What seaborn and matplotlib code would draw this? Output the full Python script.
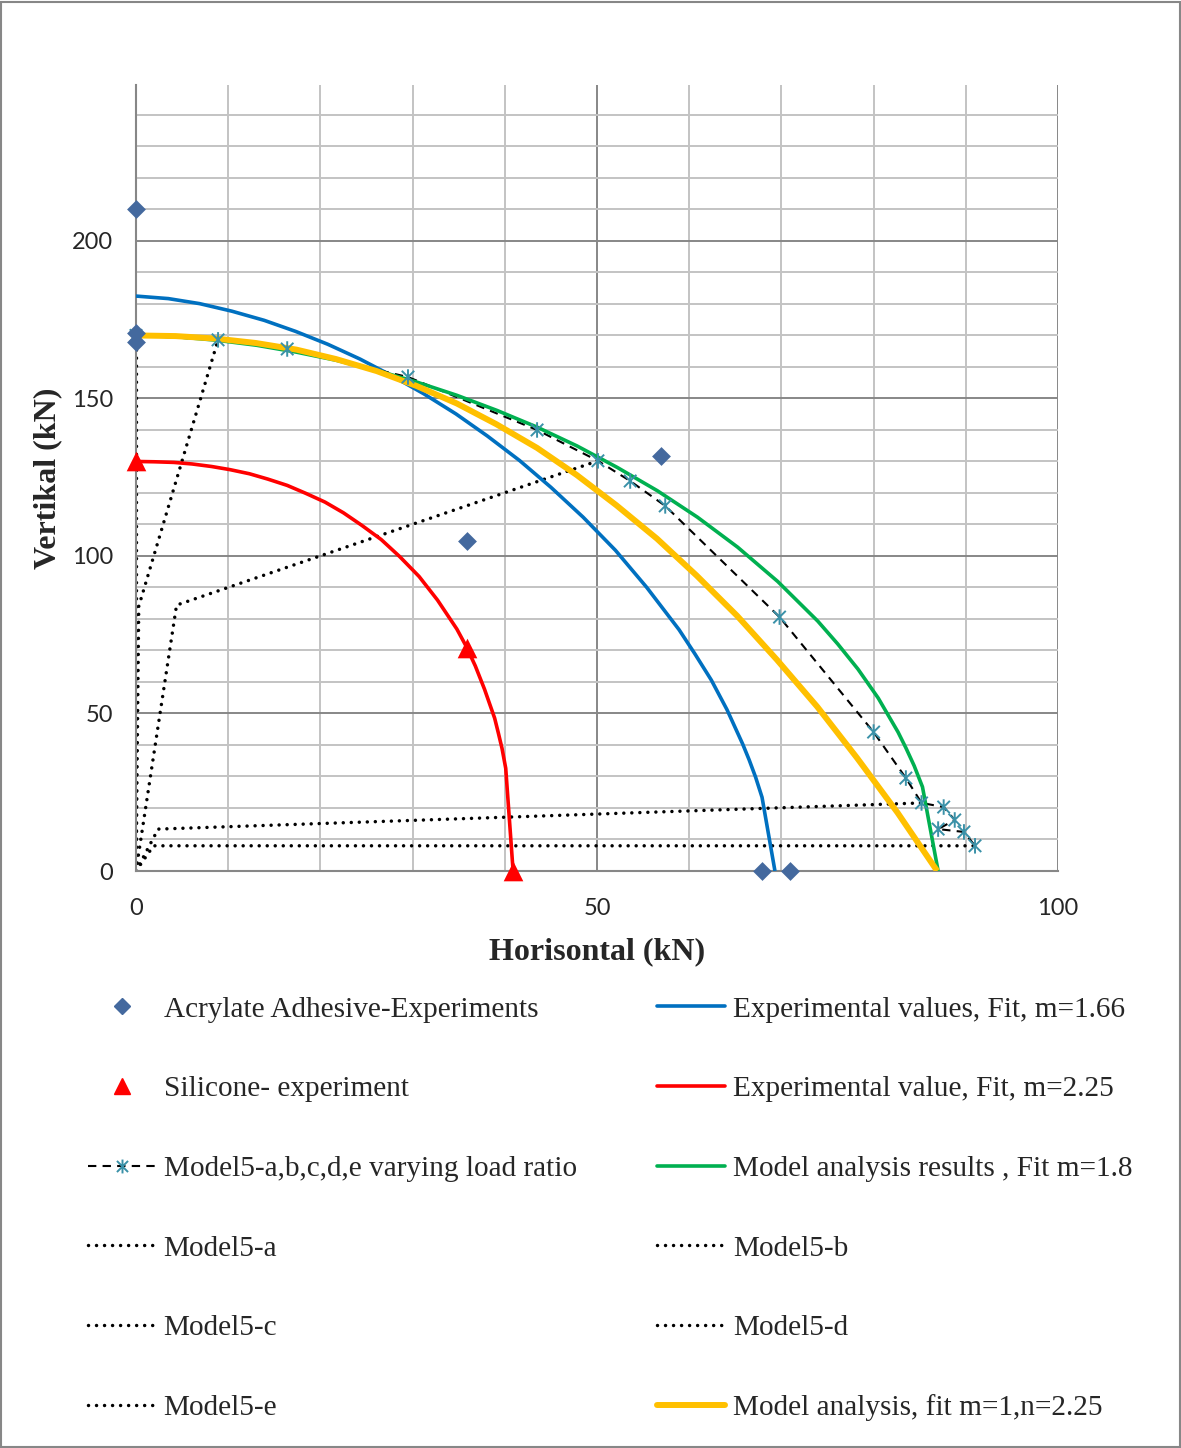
import matplotlib
matplotlib.use("Agg")
import matplotlib.pyplot as plt
from matplotlib.lines import Line2D
from matplotlib.path import Path
from matplotlib.patches import Rectangle
from matplotlib.ticker import MultipleLocator
from matplotlib.font_manager import FontProperties
import seaborn as sns

# ---- data (kN) ----
# Acrylate adhesive tests
acr_h = [0, 0, 0, 35.9, 56.9, 67.9, 70.9]
acr_v = [210, 170.8, 168, 104.8, 131.7, 0, 0]

# Silicone tests
sil_h = [0, 35.9, 40.9]
sil_v = [130, 70.8, 0]

# Experimental fit, m=1.66
fit_acr_h = [0, 3.5, 6.9, 10.4, 13.9, 17.3, 20.8, 24.3, 27.7, 31.2, 34.7, 38.1, 41.6,
             45.0, 48.5, 52.0, 55.4, 58.9, 60.6, 62.4, 64.1, 65.8, 66.5, 67.2, 67.9, 69.3]
fit_acr_v = [182.5, 181.7, 180.1, 177.7, 174.8, 171.3, 167.2, 162.5, 157.3, 151.5, 145.1,
             138.1, 130.3, 121.8, 112.3, 101.8, 90.0, 76.6, 69.0, 60.6, 51.2, 40.3, 35.3,
             29.8, 23.4, 0]

# Experimental fit, m=2.25
fit_sil_h = [0, 2.0, 4.1, 6.1, 8.2, 10.2, 12.3, 14.3, 16.4, 18.4, 20.5, 22.5, 24.5, 26.6,
             28.6, 30.7, 32.7, 34.8, 35.8, 36.8, 37.8, 38.9, 39.3, 39.7, 40.1, 40.9]
fit_sil_v = [130, 129.9, 129.7, 129.2, 128.4, 127.4, 126.1, 124.4, 122.4, 119.9, 117.1,
             113.7, 109.7, 105.2, 99.8, 93.5, 86.0, 76.8, 71.4, 65.1, 57.7, 48.5, 43.8,
             38.9, 32.6, 0]

# Model analysis fit, m=1.8
fit_mod_h = [0, 4.35, 8.7, 13.05, 17.4, 21.75, 26.1, 30.45, 34.8, 39.15, 43.5, 47.85, 52.2,
             56.55, 60.9, 65.25, 69.6, 73.95, 76.1, 78.3, 80.5, 82.65, 83.5, 84.4, 85.3, 87.0]
fit_mod_v = [170, 169.6, 168.5, 166.9, 164.7, 162.1, 158.9, 155.2, 151.0, 146.2, 140.9,
             134.9, 128.1, 120.7, 112.3, 102.8, 91.9, 79.3, 72.1, 64.1, 54.9, 44.1, 39.1,
             33.4, 26.7, 0]

# Model analysis fit, m=1, n=2.25
fit_mn_h = [0, 4.3, 8.7, 13.0, 17.4, 21.7, 26.1, 30.4, 34.8, 39.1, 43.5, 47.8, 52.1, 56.5,
            60.8, 65.2, 69.5, 73.9, 78.2, 82.6, 86.9]
fit_mn_v = [170, 169.8, 169.0, 167.6, 165.5, 162.5, 158.7, 154.0, 148.4, 141.8, 134.3,
            125.7, 116.1, 105.5, 93.8, 81.0, 67.1, 52.1, 35.9, 18.5, 0]

# Model5 failure points for varying load ratio
m5_h = [0, 8.9, 16.4, 29.5, 43.5, 50.1, 53.6, 57.4, 69.8, 80.0, 83.5, 85.2, 87.6, 88.8,
        87.0, 89.8, 91.0]
m5_v = [170, 168.6, 165.7, 156.8, 140.0, 130.2, 123.8, 115.9, 80.6, 44.1, 29.5, 21.6,
        20.3, 16.2, 13.3, 12.4, 8.0]

# Model5 load paths
m5a_h, m5a_v = [0, 0], [0, 170]
m5b_h, m5b_v = [0, 0.3, 8.9], [0, 84, 168.6]
m5c_h, m5c_v = [0, 4.4, 50.1], [0, 84.4, 130.2]
m5d_h, m5d_v = [0, 2.4, 85.2], [0, 13.3, 21.6]
m5e_h, m5e_v = [0, 1.9, 91.0], [0, 8.0, 8.0]

labels = [
    "Acrylate Adhesive-Experiments",
    "Experimental values, Fit, m=1.66",
    "Silicone- experiment",
    "Experimental value, Fit, m=2.25",
    "Model5-a,b,c,d,e varying load ratio",
    "Model analysis results , Fit m=1.8",
    "Model5-a", "Model5-b", "Model5-c", "Model5-d", "Model5-e",
    "Model analysis, fit m=1,n=2.25",
]

# ---- style ----
C_DIAMOND = "#44699E"
C_BLUE = "#0070C0"
C_RED = "#FF0000"
C_GREEN = "#00B050"
C_YELLOW = "#FFC000"
C_STAR = "#3A91A8"
C_MAJOR = "#878787"
C_MINOR = "#C3C3C3"

sns.set_style("white")
plt.rcParams["font.family"] = ["Lato", "DejaVu Sans"]

# star marker: vertical bar plus a cross
star = Path([(0, -1), (0, 1), (-0.8, -0.8), (0.8, 0.8), (-0.8, 0.8), (0.8, -0.8)],
            [Path.MOVETO, Path.LINETO, Path.MOVETO, Path.LINETO, Path.MOVETO, Path.LINETO])

W, H = 1181, 1448
fig = plt.figure(figsize=(W / 100, H / 100), dpi=100)
ax = fig.add_axes([136 / W, 1 - 871 / H, (1058 - 136) / W, (871 - 85) / H])

dot_style = dict(color="black", lw=2.5, linestyle=(0, (0.01, 2.3)),
                 dash_capstyle="round", solid_capstyle="round")
line_kw = dict(sort=False, estimator=None, legend=False, ax=ax)

for hh, vv in [(m5a_h, m5a_v), (m5b_h, m5b_v), (m5c_h, m5c_v), (m5d_h, m5d_v), (m5e_h, m5e_v)]:
    sns.lineplot(x=hh, y=vv, zorder=2, **dot_style, **line_kw)

curve_kw = dict(solid_joinstyle="round", solid_capstyle="butt")
sns.lineplot(x=fit_acr_h, y=fit_acr_v, color=C_BLUE, lw=2.6, zorder=3, **curve_kw, **line_kw)
sns.lineplot(x=fit_sil_h, y=fit_sil_v, color=C_RED, lw=2.6, zorder=3, **curve_kw, **line_kw)
sns.lineplot(x=m5_h, y=m5_v, color="black", lw=1.5, linestyle=(0, (4, 3)), zorder=3, **line_kw)
sns.lineplot(x=fit_mod_h, y=fit_mod_v, color=C_GREEN, lw=2.6, zorder=4, **curve_kw, **line_kw)
sns.lineplot(x=fit_mn_h, y=fit_mn_v, color=C_YELLOW, lw=4.3, zorder=4, **curve_kw, **line_kw)

sns.scatterplot(x=m5_h, y=m5_v, marker=star, s=125, facecolors="none",
                edgecolor=C_STAR, linewidth=1.4, zorder=5, ax=ax, legend=False)
sns.scatterplot(x=acr_h, y=acr_v, marker="D", s=92, color=C_DIAMOND, linewidth=0,
                zorder=6, ax=ax, legend=False)
sns.scatterplot(x=sil_h, y=sil_v, marker="^", s=200, color=C_RED, linewidth=0,
                zorder=6, ax=ax, legend=False)
for coll in ax.collections:
    coll.set_clip_on(False)

# ---- axes ----
ax.set_xlim(0, 100)
ax.set_ylim(0, 249.5)
ax.xaxis.set_major_locator(MultipleLocator(50))
ax.xaxis.set_minor_locator(MultipleLocator(10))
ax.yaxis.set_major_locator(MultipleLocator(50))
ax.yaxis.set_minor_locator(MultipleLocator(10))
ax.grid(which="major", color=C_MAJOR, lw=1.4)
ax.grid(which="minor", color=C_MINOR, lw=1.4)
ax.set_axisbelow(True)
for side in ["top", "right"]:
    ax.spines[side].set_visible(False)
for side in ["left", "bottom"]:
    ax.spines[side].set_color(C_MAJOR)
    ax.spines[side].set_linewidth(1.5)
ax.tick_params(which="major", length=6.5, width=1.4, color=C_MAJOR, labelsize=17,
               direction="out")
ax.tick_params(axis="y", pad=10)
ax.tick_params(axis="x", pad=13)
ax.tick_params(which="minor", length=0)

serif_bold = FontProperties(family="Liberation Serif", weight="bold", size=23)
ax.set_xlabel("Horisontal (kN)", fontproperties=serif_bold, labelpad=13)
ax.set_ylabel("Vertikal (kN)", fontproperties=serif_bold, labelpad=7)

# ---- legend ----
def dotted_handle():
    return Line2D([], [], color="black", lw=2.5, linestyle=(0, (0.01, 2.3)),
                  dash_capstyle="round")

h_acr = Line2D([], [], marker="D", color=C_DIAMOND, linestyle="none", markersize=8)
h_blue = Line2D([], [], color=C_BLUE, lw=2.6)
h_sil = Line2D([], [], marker="^", color=C_RED, linestyle="none", markersize=11)
h_red = Line2D([], [], color=C_RED, lw=2.6)
h_m5 = Line2D([], [], color="black", lw=1.5, linestyle=(0, (4, 3)), marker=star,
              markersize=10, markeredgecolor=C_STAR, markeredgewidth=1.4)
h_green = Line2D([], [], color=C_GREEN, lw=2.6)
h_yellow = Line2D([], [], color=C_YELLOW, lw=4.3)
row_handles = [h_acr, h_blue, h_sil, h_red, h_m5, h_green,
               dotted_handle(), dotted_handle(), dotted_handle(), dotted_handle(),
               dotted_handle(), h_yellow]
# fill the two legend columns row by row
order = list(range(0, 12, 2)) + list(range(1, 12, 2))
fig.legend([row_handles[i] for i in order], [labels[i] for i in order],
           ncol=2, loc="upper left", bbox_to_anchor=(88 / W, 1 - 996 / H),
           frameon=False, prop=FontProperties(family="Liberation Serif", size=21.1),
           handlelength=2.3, handletextpad=0.28, columnspacing=2.75,
           labelspacing=1.815, borderpad=0, borderaxespad=0, numpoints=1)

# outer frame
fig.patches.append(Rectangle((1.5 / W, 1.5 / H), 1 - 3 / W, 1 - 3 / H,
                             transform=fig.transFigure, fill=False,
                             edgecolor=C_MAJOR, lw=1.5))

fig.savefig("out.png", dpi=100)
